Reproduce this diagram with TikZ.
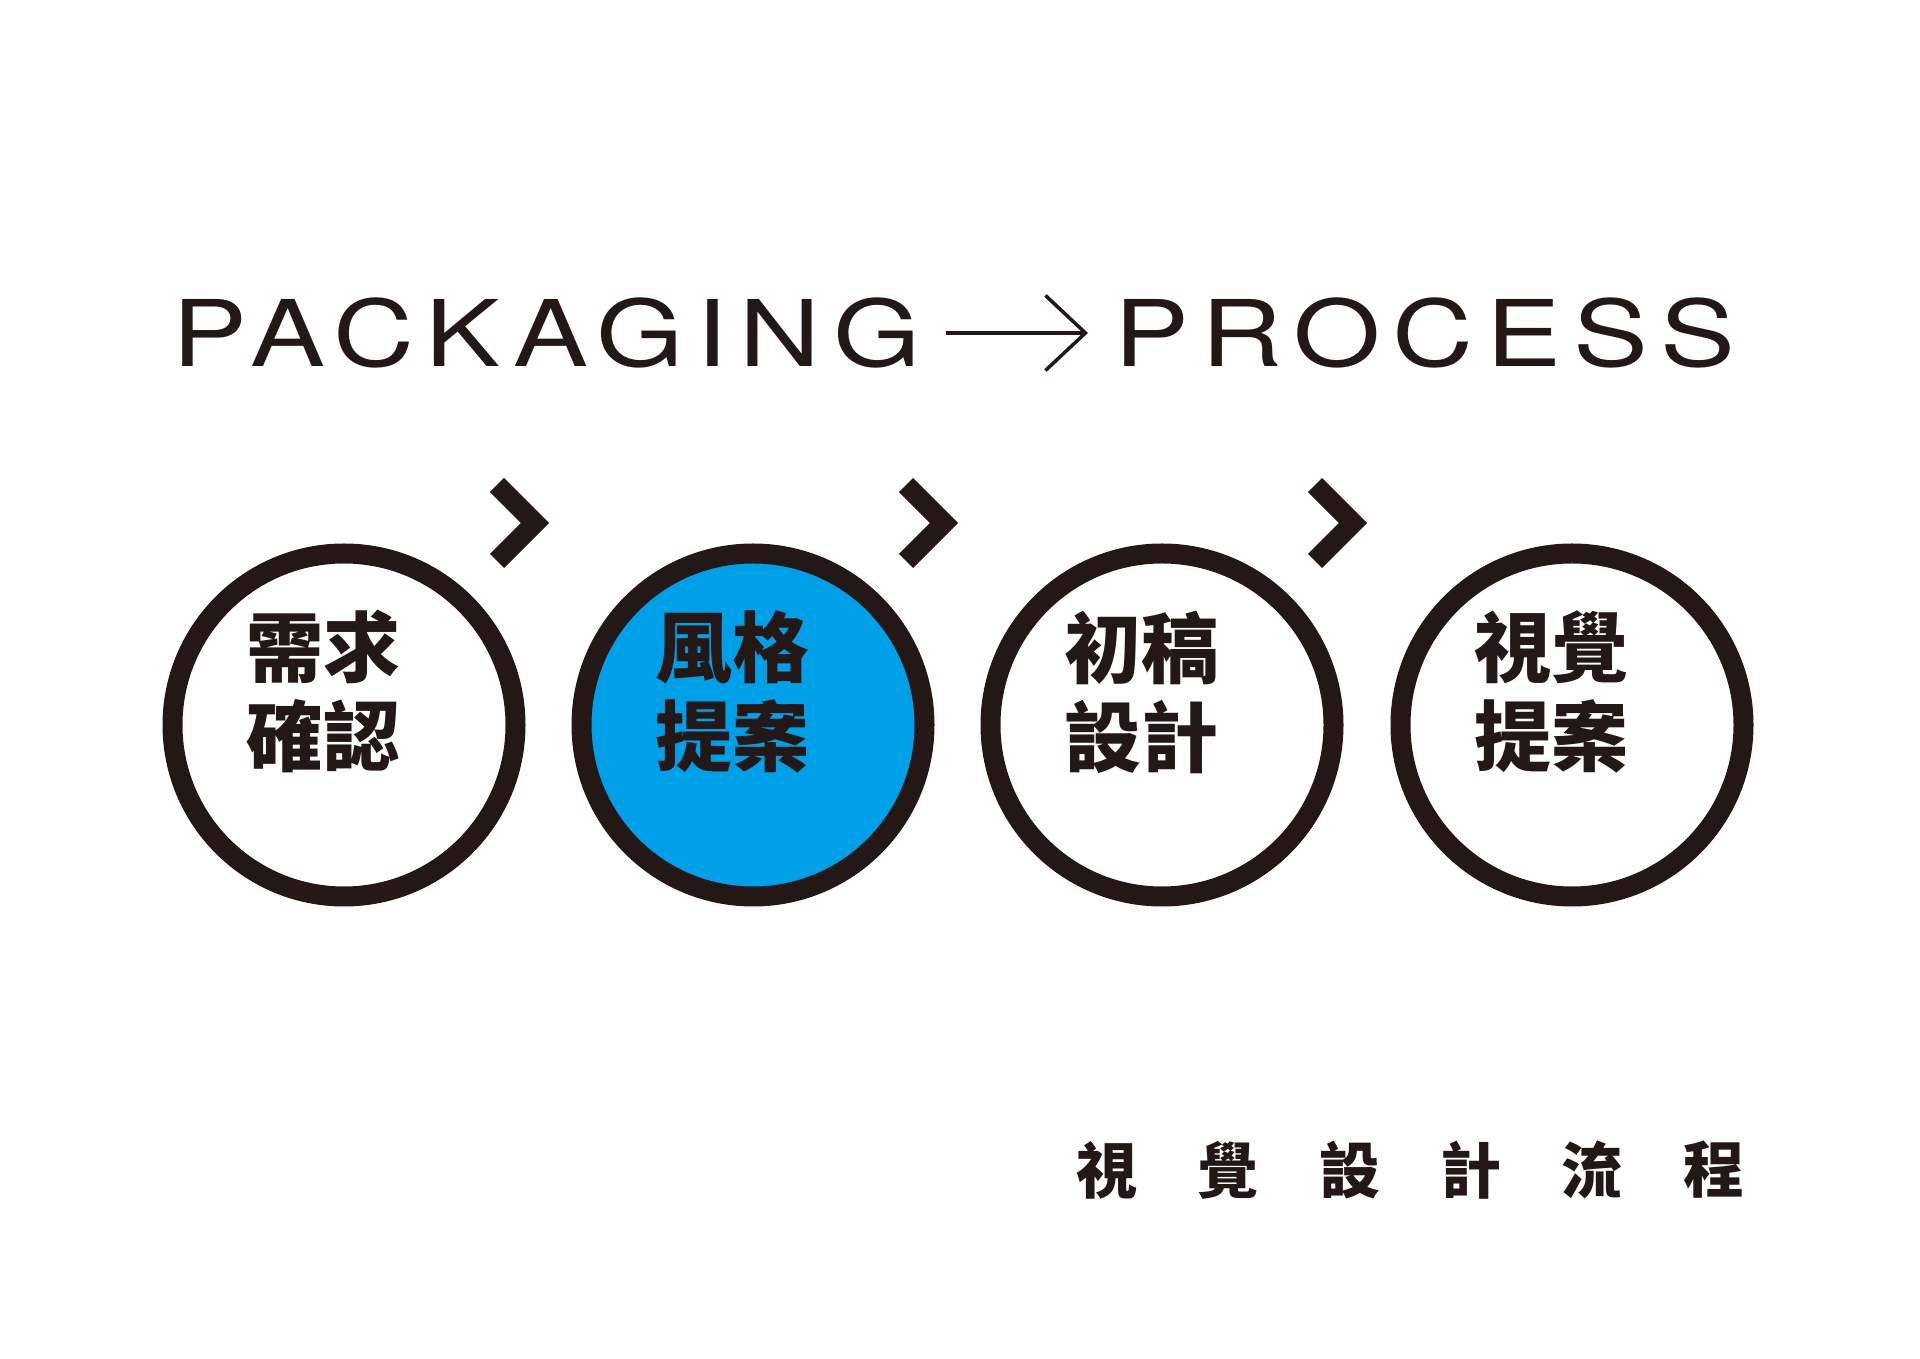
\documentclass[tikz,border=0pt]{standalone}
\usepackage{fontspec}
\setmainfont{TeX Gyre Heros}
\newfontfamily\titlefont{TeX Gyre Heros}[LetterSpace=11]
\newfontfamily\cjk{Noto Sans CJK TC}
\usetikzlibrary{arrows.meta}
\definecolor{ink}{HTML}{231815}
\definecolor{sky}{HTML}{00A0E9}
\newcommand\wide[1]{\scalebox{1.22}[1]{#1}}

\begin{document}
\begin{tikzpicture}[
  x=1pt, y=1pt,
  title/.style={font=\titlefont\fontsize{92}{100}\selectfont, text=ink, inner sep=0pt, anchor=west},
  stage/.style={draw=ink, circle, line width=20pt, minimum size=343pt, inner sep=0pt},
  stagetxt/.style={font=\cjk\bfseries\fontsize{77}{89}\selectfont, text=ink, align=left, inner sep=0pt},
  chev/.style={draw=ink, line width=20pt, line join=miter, miter limit=10},
  foot/.style={font=\cjk\bfseries\fontsize{61}{61}\selectfont, text=ink, inner sep=0pt},
]
\useasboundingbox[fill=white] (0,0) rectangle (1920,1358);
% Title
\node[title] (pk) at (172,1025) {\wide{PACKAGING}};
\node[title] (pr) at (1114,1025) {\wide{PROCESS}};
\draw[ink, line width=3.5pt, shorten <=25pt, shorten >=26pt, -{Straight Barb[length=40pt, width=75pt]}] (pk.east) -- (pr.west);
% Stages
\node[stage] (s1) at (344,633) {};
\node[stage, fill=sky] (s2) at (753,633) {};
\node[stage] (s3) at (1162,633) {};
\node[stage] (s4) at (1572,633) {};
\node[stagetxt] (t1) at ([shift={(-21,33)}]s1.center) {需求\\確認};
\node[stagetxt] (t2) at ([shift={(-21,33)}]s2.center) {風格\\提案};
\node[stagetxt] (t3) at ([shift={(-21,33)}]s3.center) {初稿\\設計};
\node[stagetxt] (t4) at ([shift={(-21,33)}]s4.center) {視覺\\提案};
\foreach \s in {s1,s2,s3} {\draw[chev] ([shift={(153,240)}]\s.center) -- ++(38,-38) -- ++(-38,-38);}
% Footer
\foreach \c [count=\i] in {視,覺,設,計,流,程} {\node[foot] (f\i) at ({1107+121.3*(\i-1)},188) {\c};}
\end{tikzpicture}
\end{document}
